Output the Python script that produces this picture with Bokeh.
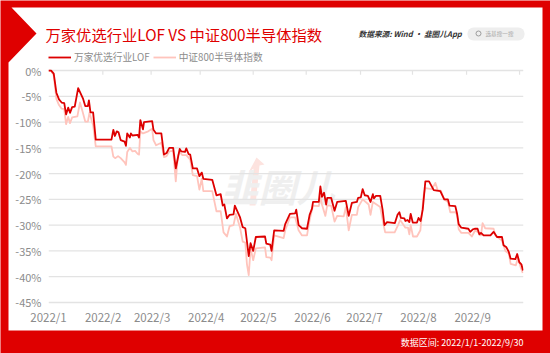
from bokeh.embed import file_html
from bokeh.resources import INLINE
from bokeh.layouts import column
from bokeh.plotting import figure
from bokeh.models import (Range1d, LinearAxis, FixedTicker, Label, Legend, LegendItem)

title_text = "万家优选行业LOF VS 中证800半导体指数"
source_text = "数据来源: Wind · 韭圈儿App"
search_text = "选基搜一搜"
range_text = "数据区间:  2022/1/1-2022/9/30"
watermark_text = "韭圈儿"
series_names = ["万家优选行业LOF", "中证800半导体指数"]

y_ticks = [0, -5, -10, -15, -20, -25, -30, -35, -40, -45]
month_labels = ["2022/1", "2022/2", "2022/3", "2022/4", "2022/5", "2022/6", "2022/7", "2022/8", "2022/9"]
month_label_days = [0, 20.8, 39.5, 60.1, 80, 100.6, 120.4, 141, 161.6]
month_tick_days = [20.7, 39.1, 57.8, 78, 98.2, 118.9, 138.7, 159.3, 179.5]

fund_days = [0, 1, 2, 3, 4, 5, 6, 6.7, 7.5, 8.2, 9, 10, 11.3, 13.2, 14, 15, 15.4, 16, 17, 18, 24, 24.7, 25.3, 26, 26.7, 27.5, 29, 29.5, 30, 31, 31.4, 32, 34, 34.5, 35, 36, 36.4, 39.5, 40, 41, 43, 44, 45, 46, 47.5, 48.5, 50, 50.6, 52, 52.5, 53.4, 54, 55, 56.6, 57.5, 58.4, 59, 62.4, 64, 65.6, 66.4, 67, 68, 69, 70.5, 71, 73, 74, 75, 76.3, 77, 78, 79, 82.5, 83, 84.5, 85, 86, 89.6, 90.2, 92, 94, 94.4, 95.3, 96.6, 98.5, 99.5, 100.4, 100.8, 103, 103.6, 104.2, 105, 105.8, 106.2, 107.7, 109, 110, 113.3, 114.4, 115.6, 117.5, 118, 119, 119.7, 120.5, 121.7, 122.7, 123.6, 124, 124.8, 126.4, 127.3, 128, 129, 132, 133, 133.7, 134.3, 135.6, 136, 136.8, 137.5, 138, 138.8, 140.4, 141, 141.8, 142.6, 143.6, 145, 146.8, 149.3, 150.8, 152.2, 152.8, 155, 155.7, 156.3, 157.3, 160, 160.7, 161.7, 162.4, 163.5, 164.2, 164.8, 165.8, 168.4, 169.6, 170.9, 172.8, 173.4, 174.5, 175.4, 176.1, 177.9, 178.6, 179.4, 180.2, 180.8]
fund_vals = [0, 0, -0.6, -4.3, -5.6, -6.2, -6.3, -8.5, -7.2, -8.2, -7.1, -7.0, -3.4, -5.5, -6.9, -6.9, -5.8, -8.1, -8.1, -13.4, -13.4, -11.5, -12.7, -11.8, -12.0, -13.5, -13.8, -14.6, -12.2, -13.0, -12.2, -12.6, -12.5, -13.0, -9.6, -11.4, -10.0, -9.8, -11.5, -12.2, -12.2, -16.3, -16.0, -15.0, -15.0, -19.0, -15.2, -15.7, -15.8, -15.1, -16.2, -16.3, -19.0, -19.0, -20.5, -19.8, -21.0, -21.2, -24.2, -24.0, -26.2, -26.0, -28.7, -28.0, -27.9, -26.2, -28.5, -30.4, -30.6, -36.0, -33.5, -35.0, -32.3, -32.2, -33.6, -33.8, -35.0, -31.0, -31.1, -29.8, -27.8, -27.7, -27.0, -30.0, -30.6, -30.7, -28.0, -26.8, -25.5, -25.5, -22.5, -24.5, -23.7, -26.0, -24.7, -24.7, -27.2, -25.5, -25.3, -28.2, -25.7, -25.5, -24.7, -24.6, -23.0, -24.2, -24.3, -25.5, -24.0, -24.8, -24.3, -24.3, -27.0, -30.0, -29.4, -29.6, -28.0, -27.5, -28.6, -28.7, -29.2, -29.0, -29.4, -27.8, -29.5, -29.5, -28.6, -29.2, -27.0, -21.5, -21.5, -23.2, -23.4, -25.0, -25.0, -26.2, -26.3, -27.8, -29.8, -30.5, -30.7, -31.3, -30.8, -30.7, -30.7, -31.8, -31.5, -32.0, -32.0, -31.3, -32.3, -32.3, -33.9, -34.3, -35.2, -36.5, -36.6, -35.6, -37.2, -37.6, -38.8]

index_days = [0, 1, 2, 3, 4, 5, 6, 6.7, 7.5, 8.2, 9, 11, 12, 13, 14, 15, 15.6, 17, 18, 24, 24.7, 25.5, 26.5, 27.5, 29, 29.5, 30, 31, 32, 33, 34, 34.5, 35, 36, 38, 39.5, 40, 41, 43, 44, 45, 46, 47.5, 48.5, 49.3, 50, 51, 52.5, 54, 55, 56.6, 57.5, 58.4, 59, 62.4, 64, 65.6, 66.7, 68, 69, 70.5, 71.4, 73, 74, 75, 75.6, 76.3, 77, 78, 79, 82.5, 83, 84.5, 85, 86, 89.6, 90.2, 92, 94, 95.3, 96.6, 98.5, 99.5, 100.8, 103, 103.6, 104.2, 105.5, 106.2, 107.7, 109, 110, 112.5, 113.3, 114.4, 115.6, 117.5, 118, 119.7, 122, 122.7, 123.6, 126.4, 127.7, 128.3, 131.9, 133.2, 134, 136, 137, 137.5, 138, 138.9, 140.4, 141.7, 143, 143.6, 146.1, 147.4, 148.3, 149.5, 150.8, 152.2, 153.1, 155, 155.7, 156.3, 157.3, 160, 161.3, 162.6, 163.9, 164.8, 165.4, 166.4, 169.6, 170.3, 172.8, 174.1, 175.4, 176.1, 178.1, 178.9, 179.8, 180.7]
index_vals = [0, 0, -1.0, -5.5, -6.7, -7.4, -7.5, -10.4, -9.0, -10.2, -9.1, -8.9, -6.2, -8.0, -9.9, -9.9, -8.2, -10.6, -14.7, -14.7, -16.7, -17.0, -16.6, -17.0, -17.8, -18.3, -15.8, -15.0, -15.7, -15.6, -16.2, -16.3, -11.8, -12.2, -11.8, -11.3, -13.5, -14.5, -14.0, -16.8, -16.6, -15.7, -15.6, -21.5, -16.5, -15.8, -16.4, -16.4, -17.3, -20.3, -20.5, -23.1, -21.0, -23.4, -23.4, -27.3, -27.3, -31.4, -32.2, -30.2, -30.0, -27.8, -30.5, -33.2, -33.4, -37.5, -39.7, -34.5, -36.8, -34.5, -34.3, -36.2, -36.3, -36.8, -32.0, -32.5, -31.0, -28.5, -28.5, -31.0, -32.0, -32.0, -29.0, -26.2, -26.3, -24.5, -26.0, -28.2, -26.2, -26.2, -29.3, -28.2, -28.3, -26.5, -31.0, -28.0, -28.0, -26.5, -25.0, -26.0, -28.0, -25.5, -26.5, -30.0, -31.4, -31.4, -30.0, -29.0, -30.5, -30.5, -31.8, -30.0, -32.2, -32.2, -31.0, -24.0, -22.8, -23.0, -21.8, -23.2, -23.3, -25.0, -25.5, -27.5, -27.5, -28.0, -30.8, -31.5, -31.5, -32.2, -31.0, -31.5, -32.0, -29.6, -30.6, -30.7, -32.0, -33.0, -35.0, -35.5, -37.5, -37.8, -36.3, -38.0, -39.3]

RED = "#df0000"
FUND_COLOR = "#dd0000"
INDEX_COLOR = "#ffc4bc"
GRID = "#e3e3e3"
CJK = "Noto Sans CJK SC"
W, H = 550, 353

# ---- page layer: red frame, white sheet, heading, legend, watermark
bg = figure(width=W, height=H, output_backend="svg", toolbar_location=None,
            x_range=Range1d(0, W), y_range=Range1d(H, 0),
            x_axis_location=None, y_axis_location=None, min_border=0)
bg.xgrid.visible = False
bg.ygrid.visible = False
bg.outline_line_color = None
bg.border_fill_color = RED
bg.background_fill_color = RED
bg.patch([11, 542, 542, 8, 8, 36], [7, 7, 330, 330, 62, 33], fill_color="white", line_color=None)
bg.patch([248, 256, 264, 259, 255, 249, 253], [172, 157, 164, 165, 205, 205, 168], fill_color="#fde3df", line_color=None)
bg.text([277], [185], text=[watermark_text], text_font={"value": CJK}, text_font_size={"value": "38px"},
        text_font_style="bold italic", text_color="#efefef", text_align="center", text_baseline="middle")
bg.add_layout(Label(x=45, y=33, text=title_text, text_font=CJK, text_font_size="15.3px",
                    text_color=RED, text_baseline="middle"))
bg.add_layout(Label(x=358, y=33, text=source_text, text_font=CJK, text_font_size="7.7px",
                    text_font_style="bold italic", text_color="#333333", text_baseline="middle"))
bg.rect([495.5], [33.5], width=57, height=13, fill_color="#eeeeee", line_color=None, border_radius=6)
bg.circle([478], [33], radius=2.5, fill_color=None, line_color="#888888", line_width=0.8)
bg.add_layout(Label(x=485, y=33.5, text=search_text, text_font=CJK, text_font_size="5.6px",
                    text_color="#aaaaaa", text_baseline="middle"))
bg.add_layout(Label(x=525, y=342, text=range_text, text_font=CJK, text_font_size="9px",
                    text_color="white", text_align="right", text_baseline="middle"))
key_fund = bg.line([-20, -10], [-20, -20], line_color=FUND_COLOR, line_width=1.8)
key_index = bg.line([-20, -10], [-20, -20], line_color=INDEX_COLOR, line_width=1.8)
legend = Legend(items=[LegendItem(label=series_names[0], renderers=[key_fund]),
                       LegendItem(label=series_names[1], renderers=[key_index])],
                orientation="horizontal", location=(48, 289), background_fill_alpha=0,
                border_line_color=None, glyph_width=23, glyph_height=10, label_standoff=3, spacing=3,
                padding=8, margin=0, label_text_font=CJK, label_text_font_size="9.7px",
                label_text_color="#8c8c8c")
bg.add_layout(legend, "center")

# ---- chart layer: axes, grid, lines
p = figure(width=W, height=H, output_backend="svg", toolbar_location=None,
           x_range=Range1d(0, 181), y_range=Range1d(-45.4, 0.4),
           x_axis_location=None, y_axis_location=None,
           min_border_left=48, min_border_right=27, min_border_top=69, min_border_bottom=48)
p.border_fill_alpha = 0
p.background_fill_alpha = 0
p.outline_line_color = None
p.xgrid.visible = False
p.ygrid.visible = False

yaxis = LinearAxis(ticker=FixedTicker(ticks=y_ticks),
                   major_label_overrides={t: f"{t}%" for t in y_ticks})
yaxis.axis_line_color = None
yaxis.major_tick_in = 0
yaxis.major_tick_out = 0
yaxis.minor_tick_in = 0
yaxis.minor_tick_out = 0
yaxis.major_label_text_color = "#8c8c8c"
yaxis.major_label_text_font = CJK
yaxis.major_label_text_font_size = "11px"
yaxis.major_label_standoff = 7
p.add_layout(yaxis, "left")

xaxis = LinearAxis(ticker=FixedTicker(ticks=month_label_days),
                   major_label_overrides=dict(zip(month_label_days, month_labels)))
xaxis.axis_line_color = None
xaxis.major_tick_in = 0
xaxis.major_tick_out = 0
xaxis.minor_tick_in = 0
xaxis.minor_tick_out = 0
xaxis.major_label_text_color = "#8c8c8c"
xaxis.major_label_text_font = CJK
xaxis.major_label_text_font_size = "11.5px"
xaxis.major_label_standoff = 4
p.add_layout(xaxis, "below")

# horizontal rules and the short month ticks hanging from the 0% rule
p.segment([0] * len(y_ticks), y_ticks, [181] * len(y_ticks), y_ticks, line_color=GRID, line_width=1.4)
p.segment(month_tick_days, [0] * len(month_tick_days), month_tick_days, [-0.8] * len(month_tick_days),
          line_color=GRID, line_width=1.2)

p.line(index_days, index_vals, line_color=INDEX_COLOR, line_width=1.8, line_join="round")
p.line(fund_days, fund_vals, line_color=FUND_COLOR, line_width=1.8, line_join="round")

chart_layer = column(p, margin=(-H - 1, 0, 0, 0))
open("out.html", "w").write(file_html(column(bg, chart_layer, spacing=0), INLINE))
